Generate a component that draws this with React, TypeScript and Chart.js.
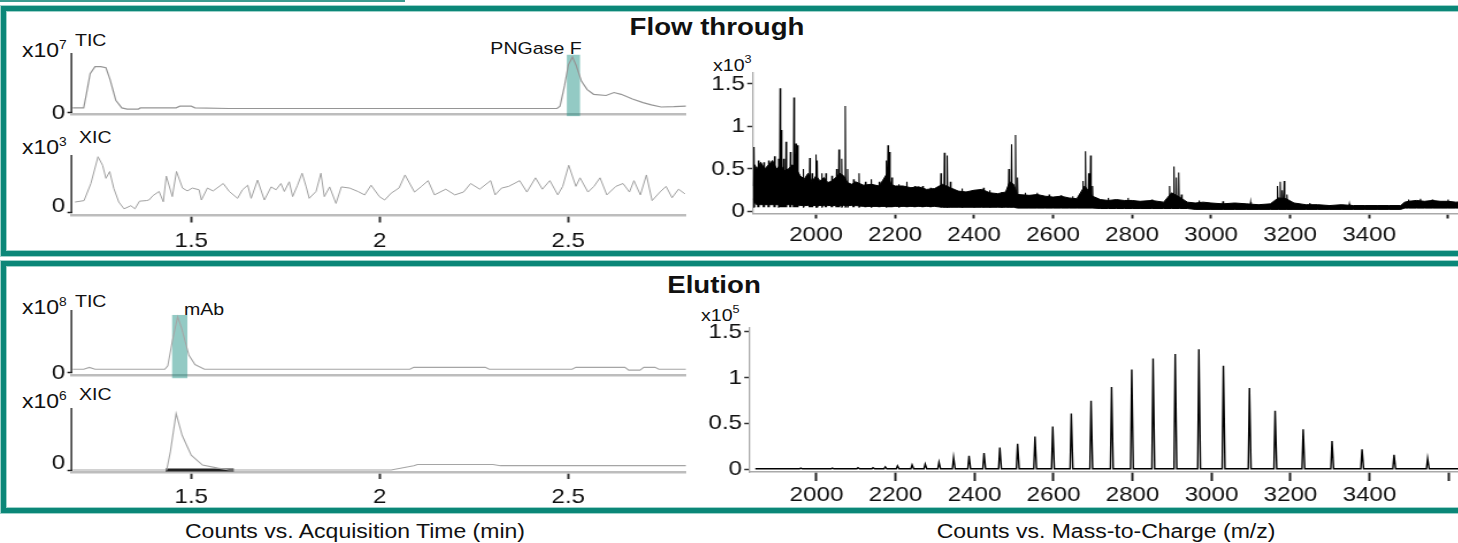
import React, { useEffect, useRef } from 'react';
import { Chart, registerables } from 'chart.js';

Chart.register(...registerables);

const FONT = "'Liberation Sans', Arial, Helvetica, sans-serif";
const TEAL = '#0b8778';
const SX = 1.15; // horizontal stretch of the original figure

// ---------- axis ticks ----------
const timeTicks = [1.5, 2, 2.5];
const timeTickLabels = ['1.5', '2', '2.5'];
const mzTicks = [2000, 2200, 2400, 2600, 2800, 3000, 3200, 3400, 3600];
const mzTickLabels = ['2000', '2200', '2400', '2600', '2800', '3000', '3200', '3400', ''];
const msCountTicks = [0, 0.5, 1, 1.5];
const msCountTickLabels = ['0', '0.5', '1', '1.5'];

// ---------- Flow through : TIC (x10^7 counts) ----------
const ftTicTime = [1.186, 1.215, 1.222, 1.232, 1.245, 1.26, 1.274, 1.285, 1.3, 1.316, 1.33, 1.36, 1.365, 1.46, 1.47, 1.5, 1.51, 1.6, 2.47, 2.478, 2.49, 2.5, 2.511, 2.52, 2.535, 2.55, 2.567, 2.6, 2.621, 2.64, 2.67, 2.698, 2.72, 2.746, 2.78, 2.812];
const ftTicCounts = [0.07, 0.07, 0.3, 0.65, 0.77, 0.77, 0.75, 0.55, 0.2, 0.07, 0.05, 0.05, 0.07, 0.07, 0.1, 0.1, 0.07, 0.06, 0.06, 0.1, 0.45, 0.8, 0.93, 0.8, 0.52, 0.38, 0.3, 0.28, 0.33, 0.3, 0.22, 0.16, 0.12, 0.085, 0.09, 0.1];

// ---------- Flow through : XIC (x10^3 counts) ----------
const ftXicTime = [1.192, 1.216, 1.234, 1.253, 1.265, 1.274, 1.284, 1.295, 1.308, 1.322, 1.34, 1.351, 1.363, 1.381, 1.388, 1.399, 1.415, 1.426, 1.434, 1.45, 1.461, 1.477, 1.49, 1.503, 1.521, 1.527, 1.543, 1.558, 1.585, 1.601, 1.623, 1.636, 1.65, 1.659, 1.676, 1.694, 1.712, 1.725, 1.738, 1.747, 1.76, 1.769, 1.782, 1.794, 1.805, 1.813, 1.831, 1.844, 1.853, 1.867, 1.884, 1.898, 1.92, 1.942, 1.96, 1.977, 1.999, 2.013, 2.03, 2.051, 2.067, 2.092, 2.111, 2.128, 2.145, 2.175, 2.199, 2.222, 2.241, 2.265, 2.294, 2.306, 2.323, 2.342, 2.371, 2.39, 2.413, 2.431, 2.451, 2.472, 2.485, 2.501, 2.52, 2.531, 2.552, 2.568, 2.584, 2.602, 2.626, 2.645, 2.662, 2.674, 2.691, 2.707, 2.722, 2.743, 2.759, 2.775, 2.792, 2.809];
const ftXicCounts = [0.175, 0.2, 0.5, 0.97, 0.82, 0.59, 0.71, 0.41, 0.175, 0.056, 0.11, 0.056, 0.19, 0.2, 0.21, 0.29, 0.36, 0.18, 0.63, 0.27, 0.71, 0.42, 0.37, 0.42, 0.39, 0.21, 0.42, 0.37, 0.5, 0.36, 0.24, 0.39, 0.47, 0.24, 0.56, 0.21, 0.44, 0.39, 0.5, 0.36, 0.53, 0.27, 0.47, 0.68, 0.44, 0.24, 0.36, 0.68, 0.27, 0.44, 0.15, 0.44, 0.42, 0.36, 0.3, 0.47, 0.27, 0.21, 0.33, 0.42, 0.65, 0.35, 0.45, 0.55, 0.3, 0.4, 0.3, 0.35, 0.5, 0.4, 0.55, 0.3, 0.42, 0.45, 0.55, 0.35, 0.6, 0.4, 0.55, 0.3, 0.45, 0.82, 0.45, 0.6, 0.35, 0.45, 0.6, 0.3, 0.45, 0.5, 0.35, 0.55, 0.3, 0.65, 0.2, 0.35, 0.45, 0.25, 0.4, 0.32];

// ---------- Flow through : spectrum (x10^3 counts) ----------
const ftBandMz = [1841, 1845, 1850, 1860, 1870, 1880, 1890, 1900, 1910, 1920, 1930, 1940, 1950, 1960, 1970, 1980, 1990, 2000, 2010, 2020, 2030, 2040, 2050, 2060, 2070, 2080, 2090, 2100, 2120, 2140, 2160, 2180, 2190, 2200, 2220, 2240, 2260, 2280, 2300, 2320, 2340, 2360, 2380, 2400, 2420, 2440, 2460, 2480, 2490, 2500, 2510, 2540, 2560, 2580, 2600, 2620, 2640, 2660, 2680, 2700, 2720, 2740, 2760, 2780, 2800, 2820, 2850, 2880, 2900, 2920, 2940, 2960, 2980, 3000, 3030, 3060, 3090, 3120, 3150, 3170, 3190, 3210, 3240, 3270, 3300, 3330, 3360, 3390, 3420, 3450, 3480, 3490, 3500, 3520, 3540, 3560, 3580, 3600, 3620, 3650, 3700];
const ftBandHigh = [0.3, 0.55, 0.5, 0.58, 0.5, 0.55, 0.6, 0.5, 0.55, 0.48, 0.5, 0.55, 0.5, 0.42, 0.38, 0.45, 0.35, 0.42, 0.36, 0.4, 0.34, 0.36, 0.4, 0.45, 0.42, 0.34, 0.32, 0.35, 0.31, 0.32, 0.3, 0.45, 0.32, 0.3, 0.3, 0.28, 0.29, 0.26, 0.27, 0.32, 0.28, 0.24, 0.23, 0.25, 0.26, 0.22, 0.21, 0.23, 0.35, 0.32, 0.2, 0.19, 0.2, 0.18, 0.17, 0.18, 0.16, 0.15, 0.3, 0.18, 0.14, 0.13, 0.14, 0.13, 0.13, 0.12, 0.13, 0.11, 0.22, 0.17, 0.11, 0.1, 0.11, 0.1, 0.09, 0.1, 0.09, 0.08, 0.09, 0.16, 0.15, 0.1, 0.08, 0.08, 0.07, 0.08, 0.07, 0.07, 0.07, 0.07, 0.07, 0.11, 0.12, 0.13, 0.12, 0.13, 0.12, 0.12, 0.11, 0.12, 0.12];
const ftBandLow = [0.15, 0.1, 0.08, 0.08, 0.08, 0.08, 0.08, 0.08, 0.08, 0.08, 0.08, 0.08, 0.08, 0.07, 0.07, 0.07, 0.07, 0.07, 0.07, 0.07, 0.07, 0.07, 0.07, 0.07, 0.07, 0.07, 0.07, 0.07, 0.06, 0.06, 0.06, 0.06, 0.06, 0.06, 0.06, 0.06, 0.06, 0.06, 0.06, 0.05, 0.05, 0.05, 0.05, 0.05, 0.05, 0.05, 0.05, 0.05, 0.05, 0.05, 0.04, 0.04, 0.04, 0.04, 0.04, 0.04, 0.04, 0.04, 0.04, 0.04, 0.035, 0.035, 0.035, 0.035, 0.035, 0.035, 0.035, 0.035, 0.035, 0.035, 0.035, 0.025, 0.025, 0.025, 0.025, 0.025, 0.025, 0.025, 0.025, 0.025, 0.025, 0.025, 0.025, 0.025, 0.025, 0.025, 0.025, 0.025, 0.025, 0.025, 0.025, 0.04, 0.04, 0.04, 0.04, 0.04, 0.04, 0.04, 0.04, 0.04, 0.04];
const ftSpikeMz = [1843, 1854, 1868, 1880, 1895, 1905, 1909, 1912, 1918, 1924, 1935, 1944, 1949, 1953, 1968, 1984, 1990, 2000, 2003, 2015, 2025, 2040, 2052, 2058, 2065, 2074, 2080, 2095, 2109, 2125, 2140, 2160, 2178, 2182, 2186, 2192, 2210, 2230, 2250, 2270, 2290, 2316, 2325, 2332, 2340, 2370, 2400, 2424, 2440, 2470, 2488, 2495, 2505, 2510, 2530, 2560, 2590, 2620, 2650, 2676, 2682, 2690, 2695, 2700, 2740, 2790, 2850, 2895, 2906, 2912, 2918, 2925, 2970, 3030, 3100, 3168, 3175, 3180, 3185, 3192, 3250, 3350, 3500, 3530, 3560, 3600];
const ftSpikeCounts = [0.76, 0.6, 0.58, 0.6, 0.65, 0.62, 1.45, 0.96, 0.62, 0.82, 0.7, 1.34, 0.8, 0.78, 0.5, 0.63, 0.45, 0.67, 0.6, 0.45, 0.45, 0.42, 0.5, 0.73, 0.62, 1.24, 0.5, 0.38, 0.45, 0.35, 0.38, 0.35, 0.6, 0.78, 0.7, 0.4, 0.32, 0.35, 0.3, 0.3, 0.28, 0.45, 0.69, 0.66, 0.35, 0.27, 0.25, 0.28, 0.25, 0.23, 0.5, 0.79, 0.9, 0.4, 0.22, 0.22, 0.2, 0.19, 0.18, 0.36, 0.71, 0.45, 0.66, 0.3, 0.16, 0.16, 0.14, 0.3, 0.53, 0.4, 0.46, 0.2, 0.13, 0.12, 0.11, 0.3, 0.35, 0.25, 0.36, 0.2, 0.1, 0.09, 0.14, 0.15, 0.14, 0.14];

// ---------- Elution : TIC (x10^8 counts) ----------
const elTicTime = [1.186, 1.215, 1.23, 1.245, 1.43, 1.438, 1.45, 1.464, 1.475, 1.494, 1.51, 1.535, 2.08, 2.09, 2.28, 2.29, 2.51, 2.52, 2.65, 2.66, 2.69, 2.7, 2.73, 2.74, 2.812];
const elTicCounts = [0.044, 0.044, 0.075, 0.044, 0.044, 0.1, 0.5, 0.89, 0.7, 0.27, 0.12, 0.044, 0.044, 0.075, 0.075, 0.044, 0.044, 0.075, 0.075, 0.03, 0.03, 0.075, 0.075, 0.044, 0.044];

// ---------- Elution : XIC (x10^6 counts) ----------
const elXicTime = [1.186, 1.435, 1.445, 1.46, 1.476, 1.5, 1.53, 1.571, 1.6, 2.03, 2.09, 2.1, 2.3, 2.32, 2.812];
const elXicCounts = [0, 0, 0.3, 0.91, 0.56, 0.24, 0.08, 0.03, 0, 0, 0.07, 0.09, 0.09, 0.07, 0.07];
const elXicRangeTime = [1.432, 1.613];
const elXicRangeCounts = [0, 0];

// ---------- Elution : spectrum (x10^5 counts), charge-state envelope ----------
const elPeakMz = [1960, 2040, 2105, 2143, 2174, 2205, 2242, 2275, 2310, 2347, 2386, 2424, 2464, 2509, 2553, 2598, 2645, 2695, 2747, 2798, 2852, 2908, 2968, 3030, 3096, 3161, 3232, 3305, 3381, 3462, 3547];
const elPeakCounts = [0.015, 0.015, 0.02, 0.02, 0.03, 0.04, 0.05, 0.06, 0.08, 0.13, 0.15, 0.18, 0.24, 0.28, 0.36, 0.47, 0.61, 0.75, 0.9, 1.09, 1.21, 1.26, 1.31, 1.13, 0.89, 0.64, 0.44, 0.31, 0.22, 0.16, 0.12];
const elBaseline = 0.008;
const ftSpikeBase = 0.05;

// ---------- plugins ----------
const axisLinePlugin = {
  id: 'axisLine',
  afterDraw(chart: any, _a: any, o: any) {
    if (!o || !o.color) return;
    const { ctx, chartArea } = chart;
    const ys = chart.scales.y;
    const x = chartArea.left - 0.5;
    ctx.save();
    ctx.strokeStyle = o.color;
    ctx.lineWidth = o.width;
    ctx.beginPath();
    ctx.moveTo(x, ys.getPixelForValue(ys.max));
    ctx.lineTo(x, ys.getPixelForValue(0));
    ctx.stroke();
    ctx.restore();
  },
};

const highlightPlugin = {
  id: 'highlight',
  beforeDatasetsDraw(chart: any, _a: any, o: any) {
    if (!o || !o.color) return;
    const { ctx } = chart;
    const xs = chart.scales.x;
    const ys = chart.scales.y;
    const l = xs.getPixelForValue(o.x0);
    const r = xs.getPixelForValue(o.x1);
    const t = ys.getPixelForValue(o.y1);
    const b = ys.getPixelForValue(o.y0);
    ctx.save();
    ctx.fillStyle = o.color;
    ctx.fillRect(l, t, r - l, b - t);
    ctx.restore();
  },
};

function series(xs: number[], ys: number[], color: string, width: number, extra: any = {}) {
  return {
    data: xs.map((x, i) => ({ x, y: ys[i] })),
    borderColor: color,
    borderWidth: width,
    pointRadius: 0,
    tension: 0,
    fill: false,
    ...extra,
  };
}

// Area: all values in page (display) pixels relative to the canvas box
type Area = { left: number; top: number; right: number; bottom: number };

const T_MIN = 1.184;
const T_MAX = 2.812;

function chromConfig(
  p: { area: Area; datasets: any[]; yMin: number; yMax: number; xLabels: boolean; zeroOffset: number; tickPad: number; highlight?: any },
  iw: number,
  h: number,
  r: number
) {
  const a = p.area;
  return {
    type: 'line',
    data: { datasets: p.datasets },
    plugins: [axisLinePlugin, highlightPlugin],
    options: {
      responsive: false,
      animation: false,
      devicePixelRatio: 1,
      layout: { padding: { left: 0, top: a.top, right: iw - a.right / r, bottom: 0 } },
      plugins: {
        legend: { display: false },
        tooltip: { enabled: false },
        title: { display: false },
        axisLine: { color: '#222', width: 1.4 },
        highlight: p.highlight || {},
      },
      scales: {
        x: {
          type: 'linear',
          min: T_MIN,
          max: T_MAX,
          afterBuildTicks: (s: any) => {
            s.ticks = timeTicks.map((v) => ({ value: v }));
          },
          ticks: {
            display: p.xLabels,
            autoSkip: false,
            maxRotation: 0,
            padding: p.tickPad,
            color: '#111',
            font: { size: 21, family: FONT },
            callback: (_v: any, i: number) => timeTickLabels[i],
          },
          grid: { drawOnChartArea: false, drawTicks: p.xLabels, tickLength: 7, tickWidth: 2, tickColor: '#333' },
          border: { display: true, color: '#bdbdbd', width: 2.5 },
          afterFit: (s: any) => {
            s.height = h - a.bottom;
            s.paddingLeft = 0;
            s.paddingRight = 0;
          },
        },
        y: {
          type: 'linear',
          min: p.yMin,
          max: p.yMax,
          afterBuildTicks: (s: any) => {
            s.ticks = [{ value: 0 }];
          },
          ticks: {
            color: '#111',
            padding: 2,
            labelOffset: p.zeroOffset,
            font: { size: 21, family: FONT },
            callback: () => '0',
          },
          grid: { drawOnChartArea: false, drawTicks: true, tickLength: 4, tickWidth: 1.5, tickColor: '#222' },
          border: { display: false },
          afterFit: (s: any) => {
            s.width = a.left / r;
            s.paddingTop = 0;
            s.paddingBottom = 0;
          },
        },
      },
    },
  };
}

function msConfig(
  p: { area: Area; datasets: any[]; xMin: number; xMax: number; yMin: number; yMax: number; tickLen: number; tickPad: number },
  iw: number,
  h: number,
  r: number
) {
  const a = p.area;
  return {
    type: 'line',
    data: { datasets: p.datasets },
    options: {
      responsive: false,
      animation: false,
      devicePixelRatio: 1,
      layout: { padding: { left: 0, top: a.top, right: iw - a.right / r, bottom: 0 } },
      plugins: { legend: { display: false }, tooltip: { enabled: false }, title: { display: false } },
      scales: {
        x: {
          type: 'linear',
          min: p.xMin,
          max: p.xMax,
          afterBuildTicks: (s: any) => {
            s.ticks = mzTicks.map((v) => ({ value: v }));
          },
          ticks: {
            autoSkip: false,
            maxRotation: 0,
            padding: p.tickPad,
            color: '#111',
            font: { size: 21, family: FONT },
            callback: (_v: any, i: number) => mzTickLabels[i],
          },
          grid: { drawOnChartArea: false, tickLength: p.tickLen, tickWidth: 2, tickColor: '#222' },
          border: { display: true, color: '#aaaaaa', width: 1.5 },
          afterFit: (s: any) => {
            s.height = h - a.bottom;
            s.paddingLeft = 0;
            s.paddingRight = 0;
          },
        },
        y: {
          type: 'linear',
          min: p.yMin,
          max: p.yMax,
          afterBuildTicks: (s: any) => {
            s.ticks = msCountTicks.map((v) => ({ value: v }));
          },
          ticks: {
            color: '#111',
            padding: 2,
            font: { size: 21, family: FONT },
            callback: (_v: any, i: number) => msCountTickLabels[i],
          },
          grid: { drawOnChartArea: false, tickLength: 5, tickWidth: 1.5, tickColor: '#333' },
          border: { display: true, color: '#aaaaaa', width: 1.3 },
          afterFit: (s: any) => {
            s.width = a.left / r;
            s.paddingTop = 0;
            s.paddingBottom = 0;
          },
        },
      },
    },
  };
}

function ChartCanvas({ x, y, w, h, make }: { x: number; y: number; w: number; h: number; make: (iw: number, h: number, r: number) => any }) {
  const ref = useRef<HTMLCanvasElement>(null);
  const iw = Math.round(w / SX);
  const r = w / iw;
  useEffect(() => {
    const chart = new Chart(ref.current as HTMLCanvasElement, make(iw, h, r));
    return () => chart.destroy();
  }, []);
  return (
    <canvas
      ref={ref}
      width={iw}
      height={h}
      style={{ position: 'absolute', left: x, top: y, width: w, height: h }}
    />
  );
}

function Txt({ x, y, size, bold, center, children }: { x: number; y: number; size: number; bold?: boolean; center?: boolean; children: any }) {
  const style: any = {
    position: 'absolute',
    left: x,
    top: y - size * 0.8465,
    fontSize: size,
    lineHeight: `${size}px`,
    fontFamily: FONT,
    fontWeight: bold ? 700 : 400,
    color: '#111',
    whiteSpace: 'nowrap',
  };
  if (center) {
    style.transform = `translateX(-50%) scaleX(${SX})`;
  } else {
    style.transform = `scaleX(${SX})`;
    style.transformOrigin = 'left center';
  }
  return <div style={style}>{children}</div>;
}

function Exp({ x, y, size, exp }: { x: number; y: number; size: number; exp: string }) {
  return (
    <Txt x={x} y={y} size={size}>
      x10
      <span style={{ fontSize: Math.round(size * 0.62), position: 'relative', top: -size * 0.42 }}>{exp}</span>
    </Txt>
  );
}

export default function App() {
  useEffect(() => {
    document.body.style.margin = '0';
  }, []);

  const spikeData = ftSpikeMz.flatMap((mz, i) => [
    { x: mz - 1.5, y: ftSpikeBase },
    { x: mz, y: ftSpikeCounts[i] },
    { x: mz + 1.5, y: ftSpikeBase },
    { x: mz + 1.6, y: null },
  ]);
  const elSpecData = [
    { x: 1845, y: elBaseline },
    ...elPeakMz.flatMap((mz, i) => [
      { x: mz - 3, y: elBaseline },
      { x: mz, y: elPeakCounts[i] },
      { x: mz + 4, y: elBaseline },
    ]),
    { x: 3706, y: elBaseline },
  ];

  const boxStyle = (top: number, height: number): any => ({
    position: 'absolute', left: 1, top, width: 1490, height, boxSizing: 'border-box',
    border: `5px solid ${TEAL}`, boxShadow: '0 0 0 1px #9fd3cb, inset 0 0 0 1px #9fd3cb',
  });

  return (
    <div style={{ position: 'fixed', left: 0, top: 0, width: 1458, height: 543, overflow: 'hidden', background: '#fff' }}>
      <div style={{ position: 'absolute', left: 0, top: 0, width: 405, height: 2, background: '#3a9c90' }} />
      <div style={boxStyle(6, 250)} />
      <div style={boxStyle(261, 252)} />

      <Txt x={717} y={35} size={24} bold center>Flow through</Txt>
      <Txt x={714} y={293} size={24} bold center>Elution</Txt>

      <Exp x={22} y={57} size={20} exp="7" />
      <Txt x={75} y={46} size={17}>TIC</Txt>
      <Exp x={22} y={154} size={20} exp="3" />
      <Txt x={79} y={143} size={17}>XIC</Txt>
      <Txt x={536} y={54} size={17} center>PNGase F</Txt>

      <Exp x={22} y={314} size={20} exp="8" />
      <Txt x={75} y={307} size={17}>TIC</Txt>
      <Exp x={22} y={408} size={20} exp="6" />
      <Txt x={79} y={400} size={17}>XIC</Txt>
      <Txt x={184} y={315} size={17}>mAb</Txt>

      <Exp x={713} y={71} size={17} exp="3" />
      <Exp x={701} y={321} size={17} exp="5" />

      <Txt x={355} y={538} size={20} center>Counts vs. Acquisition Time (min)</Txt>
      <Txt x={1106} y={538} size={20} center>Counts vs. Mass-to-Charge (m/z)</Txt>

      <ChartCanvas
        x={0} y={30} w={700} h={95}
        make={(iw, h, r) =>
          chromConfig({
            area: { left: 72, top: 23, right: 686, bottom: 84.5 },
            datasets: [series(ftTicTime, ftTicCounts, '#959595', 1.2)],
            yMin: -0.042, yMax: 1, xLabels: false, zeroOffset: 1.5, tickPad: 6,
            highlight: { color: 'rgba(15,138,124,0.45)', x0: 2.496, x1: 2.531, y0: -0.07, y1: 0.97 },
          }, iw, h, r)
        }
      />
      <ChartCanvas
        x={0} y={130} w={700} h={120}
        make={(iw, h, r) =>
          chromConfig({
            area: { left: 72, top: 25, right: 686, bottom: 85.5 },
            datasets: [series(ftXicTime, ftXicCounts, '#a0a0a0', 1)],
            yMin: -0.0614, yMax: 1, xLabels: true, zeroOffset: -6, tickPad: 6,
          }, iw, h, r)
        }
      />
      <ChartCanvas
        x={0} y={285} w={700} h={100}
        make={(iw, h, r) =>
          chromConfig({
            area: { left: 72, top: 25, right: 686, bottom: 90 },
            datasets: [series(elTicTime, elTicCounts, '#a5a5a5', 1.1)],
            yMin: -0.048, yMax: 1, xLabels: false, zeroOffset: 1, tickPad: 6,
            highlight: { color: 'rgba(15,138,124,0.45)', x0: 1.4495, x1: 1.49, y0: -0.1, y1: 0.92 },
          }, iw, h, r)
        }
      />
      <ChartCanvas
        x={0} y={388} w={700} h={120}
        make={(iw, h, r) =>
          chromConfig({
            area: { left: 72, top: 20, right: 686, bottom: 84 },
            datasets: [
              series(elXicTime, elXicCounts, '#a5a5a5', 1.1),
              series(elXicRangeTime, elXicRangeCounts, '#222', 3),
            ],
            yMin: -0.032, yMax: 1, xLabels: true, zeroOffset: -6.5, tickPad: 6,
          }, iw, h, r)
        }
      />
      <ChartCanvas
        x={690} y={60} w={810} h={190}
        make={(iw, h, r) =>
          msConfig({
            area: { left: 63, top: 13, right: 800, bottom: 153.5 },
            datasets: [
              series(ftBandMz, ftBandLow, '#000', 1),
              series(ftBandMz, ftBandHigh, '#000', 1, { fill: '-1', backgroundColor: '#000' }),
              { data: spikeData, borderColor: '#000', borderWidth: 1.1, pointRadius: 0, tension: 0, fill: false, spanGaps: false },
            ],
            xMin: 1840.5, xMax: 3706, yMin: -0.0235, yMax: 1.629, tickLen: 5, tickPad: 4,
          }, iw, h, r)
        }
      />
      <ChartCanvas
        x={690} y={315} w={810} h={190}
        make={(iw, h, r) =>
          msConfig({
            area: { left: 60, top: 13, right: 800, bottom: 157 },
            datasets: [
              { data: elSpecData, borderColor: '#000', borderWidth: 1.4, pointRadius: 0, tension: 0, fill: false },
            ],
            xMin: 1831.6, xMax: 3705, yMin: -0.027, yMax: 1.543, tickLen: 9, tickPad: 2,
          }, iw, h, r)
        }
      />
    </div>
  );
}
